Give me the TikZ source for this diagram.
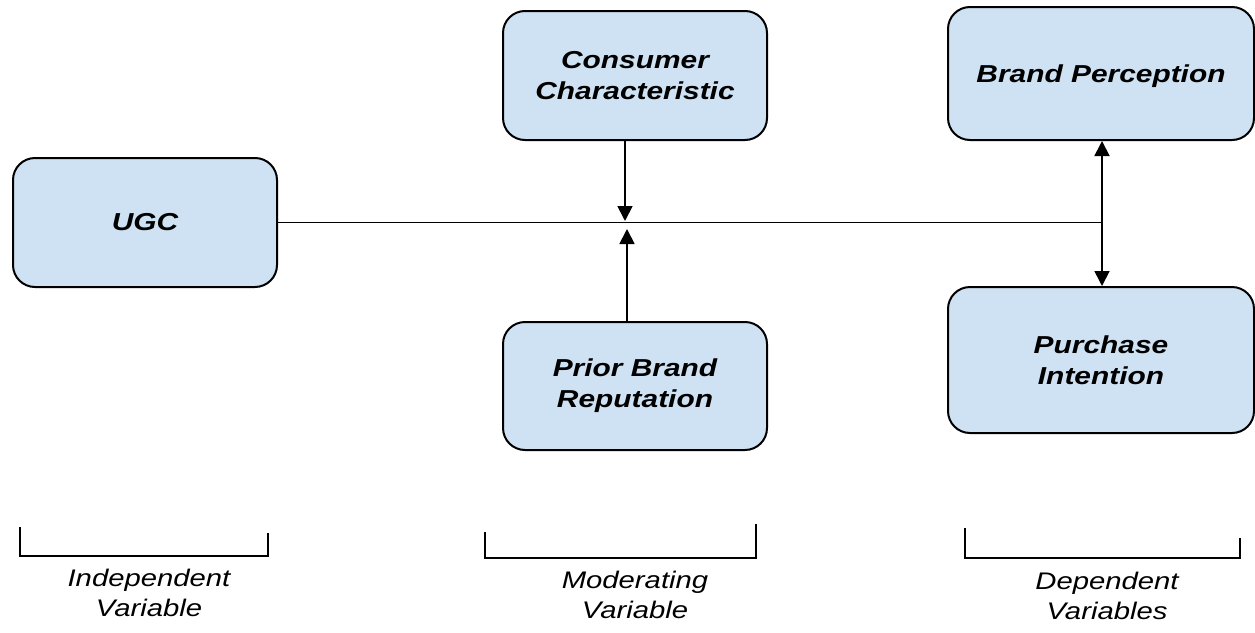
\documentclass[tikz,border=0pt]{standalone}
\usepackage{fontspec}
\setmainfont[FakeStretch=1.22]{Liberation Sans}
\usetikzlibrary{arrows.meta,positioning}

\definecolor{boxblue}{RGB}{207,226,243}

\begin{document}
\begin{tikzpicture}[
            x = 1pt, y = -1pt, % one unit per pixel, y downwards
            > = {Triangle[length=15pt,width=15pt]}, % arrow head style
            line width = 1.8pt % line style
        ]

        \tikzstyle{var}=[
            draw = black,
            line width = 2pt,
            fill = boxblue,
            rounded corners = 22pt,
            align = center,
            font = \fontsize{24.5}{31}\selectfont\bfseries\itshape
        ]
        \tikzstyle{group}=[
            align = center,
            font = \fontsize{24}{30}\selectfont\itshape
        ]

        \useasboundingbox (0,0) rectangle (1255,632);

        \node[var, minimum width = 264pt, minimum height = 129pt] (ugc) at (145,222.5) {UGC};
        \node[var, minimum width = 264pt, minimum height = 129pt] (cc) at (635,75.5) {Consumer\\Characteristic};
        \node[var, minimum width = 264pt, minimum height = 128pt] (pbr) at (635,386) {Prior Brand\\Reputation};
        \node[var, minimum width = 306pt, minimum height = 133pt, text depth = 0pt] (bp) at (1101,73.5) {Brand Perception};
        \node[var, minimum width = 306pt, minimum height = 146pt] (pi) at (1101,360) {Purchase\\Intention};

        \coordinate (dn) at (625,221);
        \coordinate (up) at (627,229);
        \coordinate (jn) at (1102,222.5);

        \draw (ugc.east) -- (jn);
        \draw[->] (cc.south -| dn) -- (dn);
        \draw[->] (pbr.north -| up) -- (up);
        \draw[<->] (bp.south -| jn) -- (pi.north -| jn);

        % brackets under the columns
        \draw[line width = 2pt] (20,527) -- (20,556) -- (268,556) -- (268,533);
        \draw[line width = 2pt] (485,532) -- (485,558) -- (756,558) -- (756,524);
        \draw[line width = 2pt] (965,528) -- (965,558) -- (1240,558) -- (1240,538);

        \node[group] (iv) at (149,593) {Independent\\Variable};
        \node[group] (mv) at (635,595) {Moderating\\Variable};
        \node[group] (dv) at (1107,596) {Dependent\\Variables};

    \end{tikzpicture}
\end{document}
